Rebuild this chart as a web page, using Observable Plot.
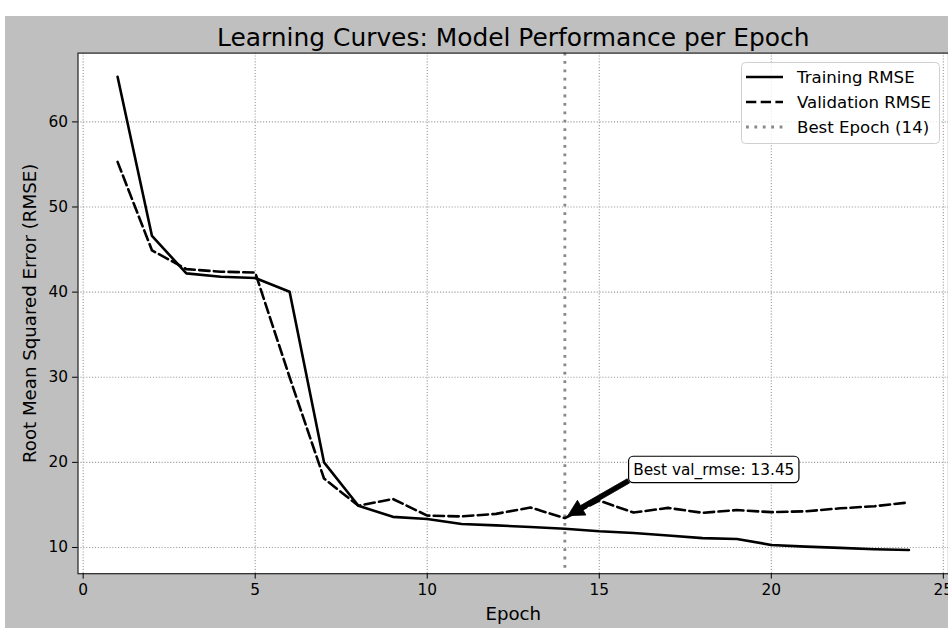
<!DOCTYPE html>
<html>
<head>
<meta charset="utf-8">
<script src="https://cdn.jsdelivr.net/npm/d3@7"></script>
<script src="https://cdn.jsdelivr.net/npm/@observablehq/plot@0.6"></script>
<style>
  html, body { margin: 0; padding: 0; background: #fff; }
  body { width: 948px; height: 628px; overflow: hidden; position: relative; font-family: "DejaVu Sans", sans-serif; }
  #fig { position: absolute; left: 5px; top: 16px; width: 943px; height: 612px; background: #bfbfbf; overflow: hidden; }
  #chart { position: absolute; left: 0; top: 0; }
  #legend { position: absolute; left: 736px; top: 46px; }
</style>
</head>
<body>
<div id="fig">
  <div id="chart"></div>
  <div id="legend"></div>
</div>
<script>
// ---- data ----
const epochs = [1, 2, 3, 4, 5, 6, 7, 8, 9, 10, 11, 12, 13, 14, 15, 16, 17, 18, 19, 20, 21, 22, 23, 24];
const trainRmse = [65.3, 46.6, 42.2, 41.8, 41.65, 40.05, 20.0, 14.9, 13.6, 13.35, 12.75, 12.6, 12.4, 12.2, 11.9, 11.7, 11.4, 11.1, 11.0, 10.3, 10.1, 9.95, 9.8, 9.7];
const valRmse = [55.3, 44.9, 42.7, 42.4, 42.3, 30.0, 18.1, 14.9, 15.7, 13.75, 13.65, 13.95, 14.7, 13.45, 15.5, 14.1, 14.65, 14.07, 14.4, 14.15, 14.25, 14.6, 14.85, 15.3];
const xTicks = [0, 5, 10, 15, 20, 25];
const yTicks = [10, 20, 30, 40, 50, 60];
const seriesNames = ["Training RMSE", "Validation RMSE", "Best Epoch (14)"];
const bestEpoch = [14];
const bestVal = [13.45];
const annotationLabel = ["Best val_rmse: 13.45"];
const annotationOffset = [2, 5]; // text placed at (epoch + 2, value + 5), like xytext
const titleText = ["Learning Curves: Model Performance per Epoch"];
const xLabel = ["Epoch"];
const yLabel = ["Root Mean Squared Error (RMSE)"];

// ---- table ----
const rows = epochs.map((e, i) => ({ epoch: e, train: trainRmse[i], val: valRmse[i] }));

// matplotlib-like 5% margins
const xMin = d3.min(epochs), xMax = d3.max(epochs);
const xPad = (xMax - xMin) * 0.05;
const yMin = d3.min([...trainRmse, ...valRmse]), yMax = d3.max([...trainRmse, ...valRmse]);
const yPad = (yMax - yMin) * 0.05;

const FONT = '"DejaVu Sans", sans-serif';

// annotation with rounded box + filled "simple" arrow
function annotationMark(index, scales, values, dimensions) {
  const sx = scales.x, sy = scales.y;
  const px = sx(bestEpoch[0]), py = sy(bestVal[0]);
  const tx = sx(bestEpoch[0] + annotationOffset[0]);
  const ty = sy(bestVal[0] + annotationOffset[1]);
  const fs = 15.3, pad = 0.3 * fs;
  const ctx = document.createElement("canvas").getContext("2d");
  ctx.font = fs + 'px "DejaVu Sans"';
  const w = ctx.measureText(annotationLabel[0]).width;
  const asc = 0.93 * fs, desc = 0.2 * fs;
  // text extent
  const ex0 = tx, ex1 = tx + w, ey0 = ty - asc, ey1 = ty + desc;
  // padded box
  const bx0 = ex0 - pad, bx1 = ex1 + pad, by0 = ey0 - pad, by1 = ey1 + pad;
  // nearest corner of text extent to the annotated point
  const pick = (arr, v) => arr.reduce((a, b) => Math.abs(b - v) < Math.abs(a - v) ? b : a);
  const ax = pick([ex0, (ex0 + ex1) / 2, ex1], px);
  const ay = pick([ey0, (ey0 + ey1) / 2, ey1], py);
  const dx = px - ax, dy = py - ay, len = Math.hypot(dx, dy);
  const ux = dx / len, uy = dy / len, nx = -uy, ny = ux;
  const shrink = 0.05 * len;
  let s = [ax + ux * shrink, ay + uy * shrink];
  // clip start by the box
  let t = 0;
  while (t < len && s[0] + ux * t > bx0 && s[0] + ux * t < bx1 && s[1] + uy * t > by0 && s[1] + uy * t < by1) t += 0.25;
  s = [s[0] + ux * t, s[1] + uy * t];
  const tip = [px - ux * shrink, py - uy * shrink];
  const hl = 16, hw = 17, tw = 4.8;
  const base = [tip[0] - ux * hl, tip[1] - uy * hl];
  const pts = [
    [s[0] + nx * tw / 2, s[1] + ny * tw / 2],
    [base[0] + nx * tw / 2, base[1] + ny * tw / 2],
    [base[0] + nx * hw / 2, base[1] + ny * hw / 2],
    tip,
    [base[0] - nx * hw / 2, base[1] - ny * hw / 2],
    [base[0] - nx * tw / 2, base[1] - ny * tw / 2],
    [s[0] - nx * tw / 2, s[1] - ny * tw / 2]
  ];
  const g = d3.create("svg:g");
  g.append("rect")
    .attr("x", bx0).attr("y", by0).attr("width", bx1 - bx0).attr("height", by1 - by0)
    .attr("rx", pad).attr("ry", pad)
    .attr("fill", "white").attr("stroke", "black").attr("stroke-width", 1.2);
  g.append("text")
    .attr("x", tx).attr("y", ty)
    .attr("text-anchor", "start")
    .attr("font-family", FONT).attr("font-size", fs).attr("fill", "black")
    .text(annotationLabel[0]);
  g.append("path")
    .attr("d", "M" + pts.map(p => p.join(",")).join("L") + "Z")
    .attr("fill", "black").attr("stroke", "black").attr("stroke-width", 0.8).attr("stroke-linejoin", "miter");
  return g.node();
}

const chart = Plot.plot({
  width: 943,
  height: 612,
  marginLeft: 72.5,
  marginRight: 0,
  marginTop: 36.6,
  marginBottom: 54.8,
  style: { background: "transparent", fontFamily: FONT, fontSize: "15.4px", color: "#000", overflow: "visible" },
  x: { domain: [xMin - xPad, xMax + xPad] },
  y: { domain: [yMin - yPad, yMax + yPad] },
  marks: [
    Plot.frame({ fill: "white", stroke: null }),
    Plot.gridX({ ticks: xTicks, stroke: "#9a9a9a", strokeOpacity: 1, strokeWidth: 1.1, strokeDasharray: "1.1,1.8" }),
    Plot.gridY({ ticks: yTicks, stroke: "#9a9a9a", strokeOpacity: 1, strokeWidth: 1.1, strokeDasharray: "1.1,1.8" }),
    Plot.ruleX(bestEpoch, { stroke: "#888", strokeWidth: 2.8, strokeDasharray: "2.8,5.6" }),
    Plot.line(rows, { x: "epoch", y: "train", stroke: "black", strokeWidth: 2.6 }),
    Plot.line(rows, { x: "epoch", y: "val", stroke: "black", strokeWidth: 2.6, strokeDasharray: "10.3,4.4" }),
    annotationMark,
    Plot.frame({ stroke: "#222", strokeWidth: 1.2 }),
    Plot.axisX({ ticks: xTicks, tickSize: 5.4, tickPadding: 4.5, label: null, stroke: "#000" }),
    Plot.axisY({ ticks: yTicks, tickSize: 5.4, tickPadding: 4.5, label: null, stroke: "#000" }),
    Plot.text(xLabel, { text: d => d, frameAnchor: "bottom", dy: 40, fontSize: 18.2, textAnchor: "middle", lineAnchor: "middle" }),
    Plot.text(yLabel, { text: d => d, frameAnchor: "left", dx: -48, rotate: -90, fontSize: 18.2, textAnchor: "middle", lineAnchor: "middle" }),
    Plot.text(titleText, { text: d => d, frameAnchor: "top", dy: -15, fontSize: 24.9, textAnchor: "middle", lineAnchor: "middle" })
  ]
});
document.getElementById("chart").appendChild(chart);

// ---- legend ----
(function () {
  const W = 199, H = 82;
  const svg = d3.create("svg").attr("width", W).attr("height", H).style("display", "block");
  svg.append("rect").attr("x", 0.5).attr("y", 0.5).attr("width", W - 1).attr("height", H - 1)
    .attr("rx", 4).attr("ry", 4).attr("fill", "white").attr("fill-opacity", 0.8)
    .attr("stroke", "#d0d0d0").attr("stroke-width", 1);
  const styles = [
    { stroke: "black", width: 2.6, dash: null },
    { stroke: "black", width: 2.6, dash: "10.3,4.4" },
    { stroke: "#888", width: 2.8, dash: "2.8,5.6" }
  ];
  seriesNames.forEach((name, i) => {
    const cy = 15 + i * 25;
    const ln = svg.append("line").attr("x1", 5).attr("x2", 42).attr("y1", cy).attr("y2", cy)
      .attr("stroke", styles[i].stroke).attr("stroke-width", styles[i].width);
    if (styles[i].dash) ln.attr("stroke-dasharray", styles[i].dash);
    svg.append("text").attr("x", 56).attr("y", cy).attr("dy", "0.36em")
      .attr("font-family", FONT).attr("font-size", 16.6).attr("fill", "black").text(name);
  });
  document.getElementById("legend").appendChild(svg.node());
})();
</script>
</body>
</html>
